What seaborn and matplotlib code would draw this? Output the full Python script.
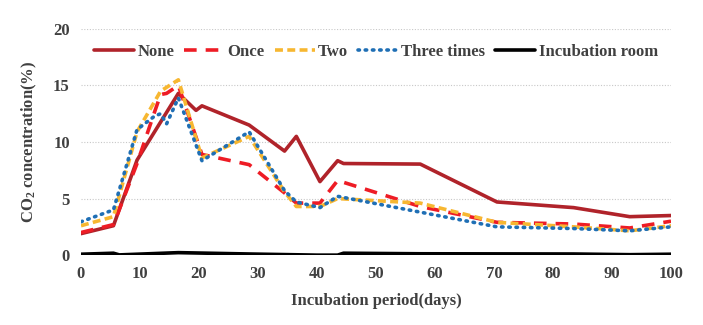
import numpy as np
import pandas as pd
import matplotlib
matplotlib.use("Agg")
import matplotlib.pyplot as plt
import seaborn as sns

# ---- data ----
days = [0, 5.5, 9.5, 12.5, 13.5, 14.5, 16.5, 19.5, 20.5, 28.5, 34.5, 36.5,
        40.5, 43.5, 44.5, 57.5, 70.5, 83.5, 93, 100]
none_vals = [1.9, 2.6, 8.4, np.nan, np.nan, np.nan, 14.3, 12.8, 13.2, 11.5, 9.2, 10.5,
             6.5, 8.35, 8.1, 8.05, 4.7, 4.2, 3.4, 3.5]
once_vals = [2.0, 2.7, 8.1, 12.7, 14.2, 14.3, 15.0, np.nan, 8.9, 8.0, 5.5, 4.6,
             4.6, 6.6, np.nan, 4.3, 2.9, 2.75, 2.4, 3.0]
two_vals = [2.6, 3.4, 10.9, np.nan, 14.5, np.nan, 15.5, np.nan, 8.6, 10.5, 5.6, 4.3,
            4.3, 5.0, np.nan, 4.6, 2.9, 2.5, 2.15, 2.6]
three_vals = [2.95, 4.0, 11.1, 12.3, 12.5, 11.6, 13.9, np.nan, 8.35, 10.9, 5.7, 4.7,
              4.2, 5.2, np.nan, 3.8, 2.5, 2.35, 2.15, 2.5]
room_days = [0, 5.5, 6.5, 16.5, 28.5, 40, 43.5, 44.5, 57.5, 83.5, 93, 100]
room_vals = [0.08, 0.17, 0.02, 0.22, 0.1, 0.0, 0.0, 0.17, 0.12, 0.1, 0.04, 0.08]

series_names = ["None", "Once", "Two", "Three times", "Incubation room"]
y_ticks = [0, 5, 10, 15, 20]
x_ticks = list(range(0, 101, 10))

# ---- styles ----
colors = {"None": "#B0232A", "Once": "#EE1C25", "Two": "#F7B731",
          "Three times": "#1F6FB5", "Incubation room": "#000000"}
dash_styles = {"None": "", "Once": (3.5, 2.5), "Two": (2.2, 1.2),
               "Three times": (0.4, 1.6), "Incubation room": ""}

rows = []
for name, vals in zip(series_names[:4], [none_vals, once_vals, two_vals, three_vals]):
    for d, v in zip(days, vals):
        rows.append({"day": d, "value": v, "series": name})
for d, v in zip(room_days, room_vals):
    rows.append({"day": d, "value": v, "series": "Incubation room"})
df = pd.DataFrame(rows).dropna()

sns.set_theme(style="white")
plt.rcParams["font.family"] = ["Liberation Serif", "DejaVu Serif"]
plt.rcParams["font.weight"] = "bold"
plt.rcParams["mathtext.fontset"] = "custom"
plt.rcParams["mathtext.rm"] = "Liberation Serif:bold"
plt.rcParams["mathtext.bf"] = "Liberation Serif:bold"
plt.rcParams["mathtext.default"] = "bf"

txt = "#404040"
fig = plt.figure(figsize=(7.03, 3.25), dpi=100)
ax = fig.add_axes([0.1152, 0.215, 0.8393, 0.696])

for y in y_ticks[1:]:
    ax.axhline(y, color="#C8C8C8", lw=0.8, ls=(0, (1, 1.5)), zorder=0)

sns.lineplot(data=df, x="day", y="value", hue="series", style="series",
             hue_order=series_names, style_order=series_names,
             palette=colors, dashes=dash_styles, lw=2.6, ax=ax,
             estimator=None, sort=True, legend=True)
blue = colors["Three times"].lower()
for line in ax.lines:
    line.set_dash_capstyle("butt")
    line.set_solid_joinstyle("round")
    if matplotlib.colors.to_hex(line.get_color()).lower() == blue:
        line.set_dash_capstyle("round")

ax.set_xlim(0, 100)
ax.set_ylim(0, 20)
ax.set_xticks(x_ticks)
ax.set_yticks(y_ticks)
ax.tick_params(axis="both", length=0, labelsize=12, labelcolor=txt, pad=8)
for lab in ax.get_xticklabels() + ax.get_yticklabels():
    lab.set_fontweight("bold")
for s in ax.spines.values():
    s.set_visible(False)

ax.set_xlabel("Incubation period(days)", fontsize=12, fontweight="bold", color=txt, labelpad=8)
ax.set_ylabel("CO$_2$ concentration(%)", fontsize=12, fontweight="bold", color=txt, labelpad=10)

handles, labels = ax.get_legend_handles_labels()
for h in handles:
    h.set_linewidth(2.6)
    if matplotlib.colors.to_hex(h.get_color()).lower() == blue:
        h.set_dash_capstyle("round")
leg = ax.legend(handles, labels, loc="center", bbox_to_anchor=(0.5, 0.9), ncol=5,
                frameon=False, fontsize=12, handlelength=2.4, handletextpad=0.2,
                columnspacing=0.6)
for t in leg.get_texts():
    t.set_color(txt)
    t.set_fontweight("bold")

fig.savefig("out.png", dpi=100)
